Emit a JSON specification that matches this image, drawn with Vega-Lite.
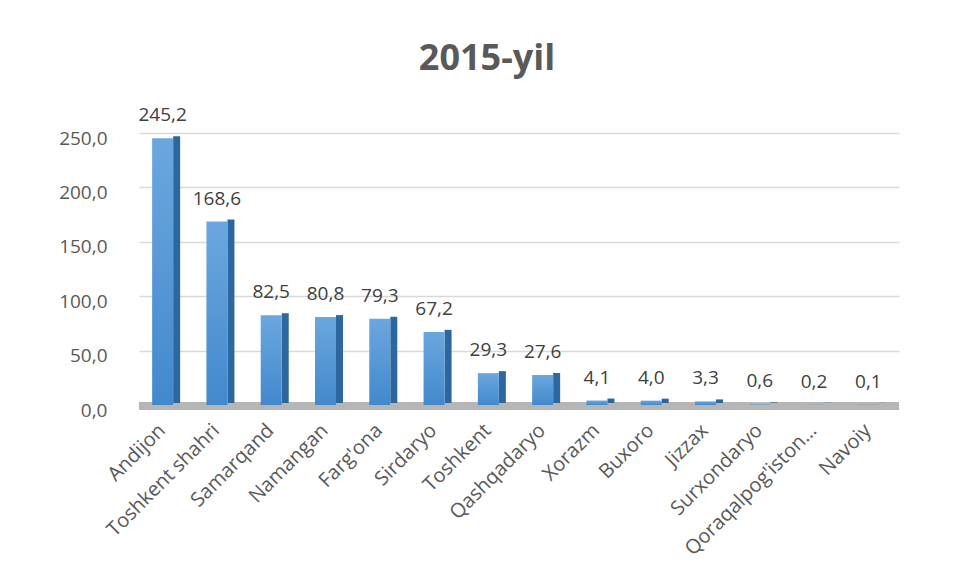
{
  "$schema": "https://vega.github.io/schema/vega-lite/v6.json",
  "width": 760,
  "height": 272,
  "autosize": "none",
  "padding": {"left": 139, "top": 133, "right": 54, "bottom": 174},
  "background": "white",
  "config": {
    "locale": {"number": {"decimal": ",", "thousands": " ", "grouping": [3], "currency": ["", ""]}},
    "view": {"stroke": null},
    "font": "Open Sans"
  },
  "title": {
    "text": "2015-yil",
    "font": "Open Sans",
    "fontSize": 36,
    "fontWeight": "bold",
    "color": "#595959",
    "anchor": "middle",
    "dx": -32,
    "offset": 28
  },
  "data": {
    "values": [
      {"region": "Andijon", "value": 245.2},
      {"region": "Toshkent shahri", "value": 168.6},
      {"region": "Samarqand", "value": 82.5},
      {"region": "Namangan", "value": 80.8},
      {"region": "Farg'ona", "value": 79.3},
      {"region": "Sirdaryo", "value": 67.2},
      {"region": "Toshkent", "value": 29.3},
      {"region": "Qashqadaryo", "value": 27.6},
      {"region": "Xorazm", "value": 4.1},
      {"region": "Buxoro", "value": 4.0},
      {"region": "Jizzax", "value": 3.3},
      {"region": "Surxondaryo", "value": 0.6},
      {"region": "Qoraqalpog'iston Respublikasi", "value": 0.2},
      {"region": "Navoiy", "value": 0.1}
    ]
  },
  "encoding": {
    "x": {
      "field": "region",
      "type": "nominal",
      "sort": null,
      "scale": {"paddingInner": 0, "paddingOuter": 0},
      "axis": {
        "title": null,
        "domain": false,
        "ticks": false,
        "labelAngle": -45,
        "labelAlign": "right",
        "labelBaseline": "middle",
        "labelPadding": 22,
        "labelOffset": -4,
        "labelFontSize": 20,
        "labelColor": "#595959",
        "labelFont": "Open Sans",
        "labelLimit": 300,
        "labelExpr": "length(datum.label) > 16 ? slice(datum.label, 0, 16) + '…' : datum.label"
      }
    },
    "y": {
      "field": "value",
      "type": "quantitative",
      "scale": {"domain": [0, 250], "nice": false},
      "axis": {
        "title": null,
        "domain": false,
        "ticks": false,
        "values": [0, 50, 100, 150, 200, 250],
        "format": ".1f",
        "labelFontSize": 19,
        "labelColor": "#595959",
        "labelFont": "Open Sans",
        "labelPadding": 32,
        "labelOffset": 5,
        "gridColor": "#d9d9d9",
        "gridWidth": 1.5
      }
    }
  },
  "layer": [
    {
      "mark": {"type": "rule", "strokeWidth": 8, "color": "#b5b5b5", "opacity": 0.75, "yOffset": 1},
      "encoding": {"y": {"datum": 0}, "x": null}
    },
    {
      "mark": {"type": "bar", "width": 7, "xOffset": 10.5, "yOffset": -2},
      "encoding": {
        "color": {
          "condition": {"test": "datum.region === 'Navoiy'", "value": "#1a2f4a"},
          "value": "#2d679f"
        }
      }
    },
    {
      "mark": {"type": "bar", "width": 21, "xOffset": -3.5},
      "encoding": {
        "color": {
          "condition": {"test": "datum.region === 'Navoiy'", "value": "#1f3a5c"},
          "value": {
            "gradient": "linear",
            "x1": 0, "y1": 0, "x2": 0, "y2": 1,
            "stops": [
              {"offset": 0, "color": "#6ba7df"},
              {"offset": 1, "color": "#4289cc"}
            ]
          }
        }
      }
    },
    {
      "mark": {"type": "text", "baseline": "alphabetic", "dy": -17, "xOffset": -3.5, "fontSize": 19, "color": "#404040", "font": "Open Sans"},
      "encoding": {"text": {"field": "value", "type": "quantitative", "format": ".1f"}}
    }
  ]
}
